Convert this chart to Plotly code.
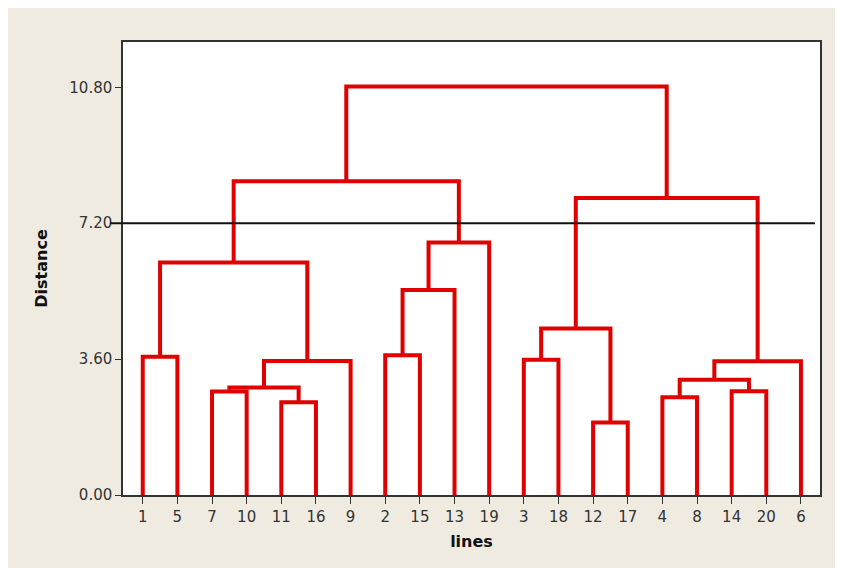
import plotly.graph_objects as go

# Leaf order along the x axis
leaf_labels = ["1", "5", "7", "10", "11", "16", "9", "2", "15", "13", "19",
               "3", "18", "12", "17", "4", "8", "14", "20", "6"]

# Merges: children are leaf labels or cluster ids ("c<n>"), with merge distance
merge_left = ["1", "7", "11", "c2", "c4", "c1", "2", "c7", "c8", "c6",
              "3", "12", "c11", "4", "14", "c14", "c16", "c13", "c10"]
merge_right = ["5", "10", "16", "c3", "9", "c5", "15", "13", "19", "c9",
               "18", "17", "c12", "8", "20", "c15", "6", "c17", "c18"]
merge_height = [3.66, 2.74, 2.46, 2.85, 3.55, 6.16, 3.70, 5.43, 6.69, 8.31,
                3.58, 1.92, 4.41, 2.59, 2.75, 3.05, 3.54, 7.87, 10.82]

y_ticks = [0.0, 3.6, 7.2, 10.8]
y_tick_text = ["0.00", "3.60", "7.20", "10.80"]
cut_level = 7.2

pos = {lab: i for i, lab in enumerate(leaf_labels)}
hgt = {lab: 0.0 for lab in leaf_labels}
xs, ys = [], []
for k, (l, r, h) in enumerate(zip(merge_left, merge_right, merge_height), start=1):
    xl, xr = pos[l], pos[r]
    xs += [xl, xl, xr, xr, None]
    ys += [hgt[l], h, h, hgt[r], None]
    cid = f"c{k}"
    pos[cid] = (xl + xr) / 2
    hgt[cid] = h

fig = go.Figure()
fig.add_trace(go.Scatter(x=xs, y=ys, mode="lines",
                         line=dict(color="#e00000", width=4),
                         hoverinfo="skip", showlegend=False))

y_max = 12.0
fig.add_shape(type="line", xref="paper", yref="paper",
              x0=-0.0187, x1=0.9928, y0=cut_level / y_max, y1=cut_level / y_max,
              line=dict(color="#111111", width=2))

font = dict(family="DejaVu Sans", size=15, color="#333333")
fig.update_layout(
    width=835, height=560,
    margin=dict(l=115, r=23, t=34, b=73),
    paper_bgcolor="#efebe1",
    plot_bgcolor="white",
    font=font,
    showlegend=False,
    xaxis=dict(range=[-0.57, 19.55], tickmode="array",
               tickvals=list(range(len(leaf_labels))), ticktext=leaf_labels,
               showgrid=False, zeroline=False, showline=True, linecolor="#333333",
               linewidth=1.5, mirror=True, ticks="outside", ticklen=7,
               tickcolor="#333333", tickfont=font,
               title=dict(text="<b>lines</b>", font=dict(family="DejaVu Sans", size=16, color="#111111"),
                          standoff=11)),
    yaxis=dict(range=[0, y_max], tickmode="array", tickvals=y_ticks, ticktext=y_tick_text,
               showgrid=False, zeroline=False, showline=True, linecolor="#333333",
               linewidth=1.5, mirror=True, ticks="outside", ticklen=6,
               tickcolor="#333333", tickfont=font,
               title=dict(text="<b>Distance</b>", font=dict(family="DejaVu Sans", size=16, color="#111111"),
                          standoff=18)),
)

fig.write_html("out.html")
